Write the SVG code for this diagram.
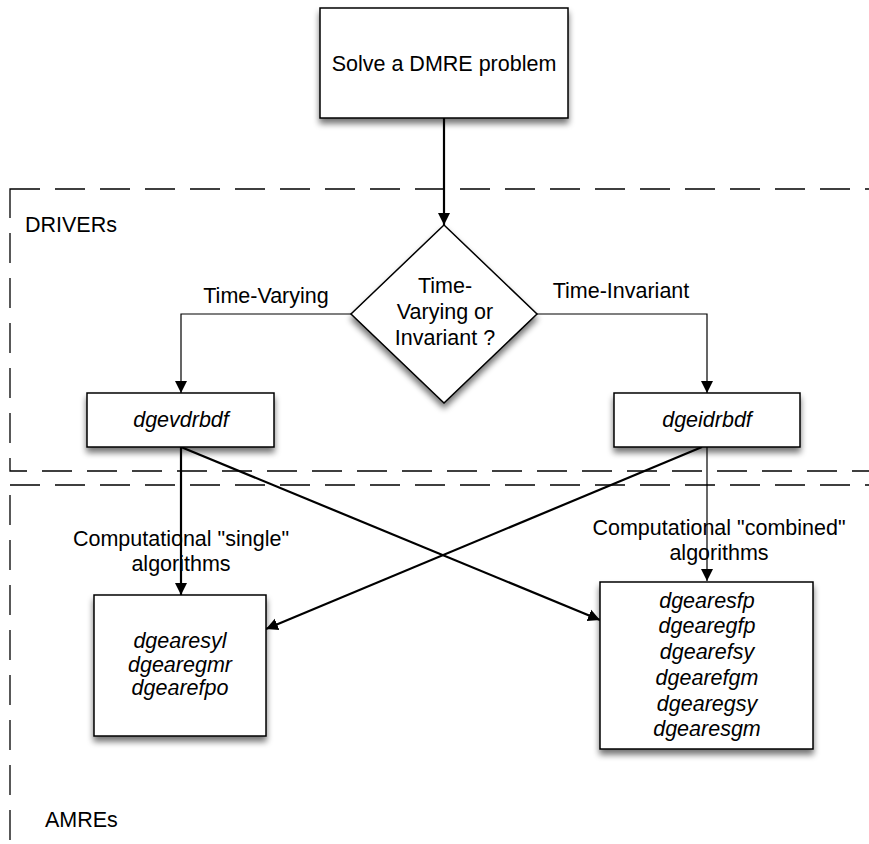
<svg xmlns="http://www.w3.org/2000/svg" width="869" height="844" viewBox="0 0 869 844">
<defs>
<style>
.t{font-family:"Liberation Sans",Arial,Helvetica,sans-serif;font-size:21.5px;fill:#000;text-anchor:middle}
.l{text-anchor:start}
.i{font-style:italic}
.box{fill:#fff;stroke:#000;stroke-width:1.5;filter:url(#sh)}
.zone{fill:none;stroke:#000;stroke-width:1.3;stroke-dasharray:30 15}
.thick{fill:none;stroke:#000;stroke-width:2.2}
.thin{fill:none;stroke:#000;stroke-width:1.2}
</style>
<filter id="sh" x="-20%" y="-20%" width="140%" height="150%">
<feGaussianBlur in="SourceAlpha" stdDeviation="3"/>
<feOffset dx="0" dy="5" result="b"/>
<feComponentTransfer><feFuncA type="linear" slope="0.55"/></feComponentTransfer>
<feMerge><feMergeNode/><feMergeNode in="SourceGraphic"/></feMerge>
</filter>
<marker id="ah" viewBox="0 0 10 10" refX="10" refY="5" markerUnits="userSpaceOnUse" markerWidth="12" markerHeight="14" orient="auto">
<path d="M0,0 L10,5 L0,10 Z" fill="#000"/>
</marker>
</defs>
<rect width="869" height="844" fill="#fff"/>

<g id="zones">
<rect class="zone" x="10" y="189" width="880" height="282"/>
<rect class="zone" x="10" y="485" width="880" height="400"/>
<text class="t l" x="25" y="232">DRIVERs</text>
<text class="t l" x="45" y="827">AMREs</text>
</g>

<g id="connectors">
<line class="thick" x1="444" y1="118" x2="444" y2="225" marker-end="url(#ah)"/>
<polyline class="thin" points="351,314 181,314 181,393" marker-end="url(#ah)"/>
<polyline class="thin" points="537,314 707,314 707,393" marker-end="url(#ah)"/>
<line class="thick" x1="181" y1="447" x2="181" y2="595" marker-end="url(#ah)"/>
<line class="thin" x1="707" y1="447" x2="707" y2="581" marker-end="url(#ah)"/>
<line class="thick" x1="181" y1="447" x2="600" y2="620" marker-end="url(#ah)"/>
<line class="thick" x1="702" y1="447" x2="266" y2="629" marker-end="url(#ah)"/>
<text class="t" x="266" y="303">Time-Varying</text>
<text class="t" x="621" y="298">Time-Invariant</text>
<text class="t" x="181" y="546">Computational "single"</text>
<text class="t" x="181" y="571">algorithms</text>
<text class="t" x="719" y="535">Computational "combined"</text>
<text class="t" x="719" y="560">algorithms</text>
</g>

<g id="start">
<rect class="box" x="320" y="8" width="248" height="110"/>
<text class="t" x="444" y="71">Solve a DMRE problem</text>
</g>

<g id="decision">
<polygon class="box" points="444,225 537,314 444,403 351,314"/>
<text class="t" x="445" y="293">Time-</text>
<text class="t" x="445" y="319">Varying or</text>
<text class="t" x="445" y="345">Invariant ?</text>
</g>

<g id="dgevdrbdf">
<rect class="box" x="87" y="393" width="187" height="54"/>
<text class="t i" x="181" y="427">dgevdrbdf</text>
</g>

<g id="dgeidrbdf">
<rect class="box" x="614" y="393" width="186" height="54"/>
<text class="t i" x="707" y="427">dgeidrbdf</text>
</g>

<g id="single">
<rect class="box" x="94" y="595" width="172" height="141"/>
<text class="t i" x="180" y="648">dgearesyl</text>
<text class="t i" x="180" y="672">dgearegmr</text>
<text class="t i" x="180" y="695">dgearefpo</text>
</g>

<g id="combined">
<rect class="box" x="600" y="582" width="213" height="167"/>
<text class="t i" x="707" y="608">dgearesfp</text>
<text class="t i" x="707" y="633">dgearegfp</text>
<text class="t i" x="707" y="659">dgearefsy</text>
<text class="t i" x="707" y="685">dgearefgm</text>
<text class="t i" x="707" y="711">dgearegsy</text>
<text class="t i" x="707" y="736">dgearesgm</text>
</g>
</svg>
